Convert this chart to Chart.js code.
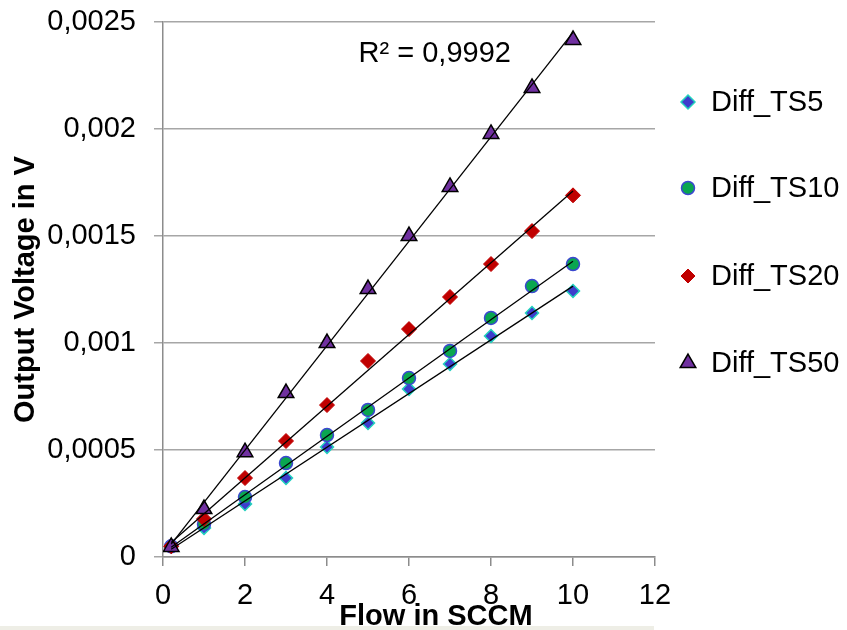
<!DOCTYPE html>
<html>
<head>
<meta charset="utf-8">
<script src="https://cdn.jsdelivr.net/npm/chart.js@4.4.1/dist/chart.umd.min.js"></script>
<style>
  html, body { margin: 0; padding: 0; background: #fff; }
  #wrap { position: relative; width: 847px; height: 630px; }
  #band { position: absolute; left: 0; top: 626px; width: 654px; height: 4px; background: #eeeee6; }
</style>
</head>
<body>
<div id="wrap">
  <canvas id="chart" width="847" height="630"></canvas>
  <div id="band"></div>
</div>
<script>
// ==================== DATOS ====================
const flowSccm = [0.2, 1, 2, 3, 4, 5, 6, 7, 8, 9, 10];

const diffTS5  = [0.00005, 0.000136, 0.000248, 0.000369, 0.000514, 0.000626, 0.000785, 0.000902, 0.001033, 0.00114, 0.001243];
const diffTS10 = [0.00005, 0.000154, 0.00028, 0.000439, 0.00057, 0.000687, 0.000836, 0.000963, 0.001117, 0.001266, 0.001369];
const diffTS20 = [0.00005, 0.000178, 0.000369, 0.000542, 0.00071, 0.000916, 0.001065, 0.001215, 0.001369, 0.001523, 0.00169];
const diffTS50 = [0.000047, 0.000224, 0.00049, 0.000766, 0.001, 0.001252, 0.0015, 0.001729, 0.001977, 0.002192, 0.002416];

const seriesNames = ['Diff_TS5', 'Diff_TS10', 'Diff_TS20', 'Diff_TS50'];

const yTickLabels = ['0', '0,0005', '0,001', '0,0015', '0,002', '0,0025'];
const xTickLabels = ['0', '2', '4', '6', '8', '10', '12'];

const xTitle = 'Flow in SCCM';
const yTitle = 'Output Voltage in V';

const r2Text = 'R² = 0,9992';
const r2Pos  = { x: 4.77, y: 0.00235 };

// ==================== ESTILO ====================
const FONT = "'Liberation Sans', Arial, sans-serif";
const FONT_SIZE = 29;
const estilos = [
  { pointStyle: 'rectRot',  radius: 6.5, bg: '#3d3dcc', border: '#22d3bd', bw: 1.5 },
  { pointStyle: 'circle',   radius: 6.5, bg: '#0aa650', border: '#3b47d0', bw: 1.5 },
  { pointStyle: 'rectRot',  radius: 7.5, bg: '#c00000', border: '#c00000', bw: 1 },
  { pointStyle: 'triangle', radius: 9,   bg: '#7030a0', border: '#000000', bw: 1.5 }
];

// Tendencia lineal (mínimos cuadrados), como la línea de Excel
function tendencia(xs, ys) {
  const n = xs.length;
  let sx = 0, sy = 0, sxx = 0, sxy = 0;
  for (let i = 0; i < n; i++) {
    sx += xs[i]; sy += ys[i]; sxx += xs[i] * xs[i]; sxy += xs[i] * ys[i];
  }
  const m = (n * sxy - sx * sy) / (n * sxx - sx * sx);
  const b = (sy - m * sx) / n;
  const x0 = xs[0], x1 = xs[n - 1];
  return [{ x: x0, y: m * x0 + b }, { x: x1, y: m * x1 + b }];
}

const valores = [diffTS5, diffTS10, diffTS20, diffTS50];
const datasets = [];

valores.forEach((ys, i) => {
  const e = estilos[i];
  datasets.push({
    label: seriesNames[i],
    data: flowSccm.map((x, k) => ({ x, y: ys[k] })),
    pointStyle: e.pointStyle,
    pointRadius: e.radius,
    pointBackgroundColor: e.bg,
    pointBorderColor: e.border,
    pointBorderWidth: e.bw,
    showLine: false,
    order: 4 - i
  });
});

valores.forEach((ys, i) => {
  datasets.push({
    label: 'trend-' + seriesNames[i],
    data: tendencia(flowSccm, ys),
    showLine: true,
    borderColor: '#000',
    borderWidth: 1.3,
    pointRadius: 0,
    order: 0
  });
});

// ==================== PLUGINS ====================
function dibujarMarcador(ctx, e, x, y) {
  ctx.save();
  ctx.fillStyle = e.bg;
  ctx.strokeStyle = e.border;
  ctx.lineWidth = e.bw;
  ctx.beginPath();
  const r = e.radius;
  if (e.pointStyle === 'circle') {
    ctx.arc(x, y, r, 0, Math.PI * 2);
  } else if (e.pointStyle === 'rectRot') {
    ctx.moveTo(x, y - r); ctx.lineTo(x + r, y); ctx.lineTo(x, y + r); ctx.lineTo(x - r, y);
  } else {
    ctx.moveTo(x, y - r);
    ctx.lineTo(x + r * 0.866, y + r * 0.5);
    ctx.lineTo(x - r * 0.866, y + r * 0.5);
  }
  ctx.closePath();
  ctx.fill();
  ctx.stroke();
  ctx.restore();
}

const leyendaLateral = {
  id: 'leyendaLateral',
  afterDraw(chart) {
    const ctx = chart.ctx;
    const x = chart.chartArea.right + 33;
    const filas = [102, 188, 276, 363];
    ctx.save();
    ctx.font = FONT_SIZE + 'px ' + FONT;
    ctx.fillStyle = '#000';
    ctx.textBaseline = 'middle';
    ctx.textAlign = 'left';
    seriesNames.forEach((nombre, i) => {
      const e = Object.assign({}, estilos[i]);
      if (i === 0 || i === 2) e.radius = 7;
      dibujarMarcador(ctx, e, x, filas[i]);
      ctx.fillText(nombre, x + 23, filas[i] + 1);
    });
    ctx.restore();
  }
};

const textosExtra = {
  id: 'textosExtra',
  afterDraw(chart) {
    const ctx = chart.ctx;
    const area = chart.chartArea;
    ctx.save();
    ctx.fillStyle = '#000';
    // R² de la serie superior
    ctx.font = FONT_SIZE + 'px ' + FONT;
    ctx.textBaseline = 'middle';
    ctx.textAlign = 'left';
    ctx.fillText(r2Text,
      chart.scales.x.getPixelForValue(r2Pos.x),
      chart.scales.y.getPixelForValue(r2Pos.y));
    // Título eje X (desplazado a la derecha como en Excel)
    ctx.font = 'bold ' + FONT_SIZE + 'px ' + FONT;
    ctx.textAlign = 'center';
    ctx.textBaseline = 'alphabetic';
    ctx.fillText(xTitle, (area.left + area.right) / 2 + 27, 625);
    ctx.restore();
  }
};

// ==================== GRÁFICO ====================
new Chart(document.getElementById('chart'), {
  type: 'scatter',
  data: { datasets },
  options: {
    responsive: false,
    animation: false,
    devicePixelRatio: 1,
    layout: { padding: { top: 22, right: 192, left: 0, bottom: 0 } },
    plugins: {
      legend: { display: false },
      tooltip: { enabled: false }
    },
    scales: {
      x: {
        type: 'linear',
        min: 0,
        max: 12,
        afterFit: (s) => { s.height = 73; s.paddingLeft = 0; s.paddingRight = 0; },
        ticks: {
          stepSize: 2,
          color: '#000',
          font: { family: FONT, size: FONT_SIZE },
          padding: 13,
          maxRotation: 0,
          callback: (v, i) => xTickLabels[i]
        },
        grid: { drawOnChartArea: false, drawTicks: true, tickLength: 9, color: '#8c8c8c', lineWidth: 1.5 },
        border: { display: true, color: '#8c8c8c', width: 1.5 }
      },
      y: {
        min: 0,
        max: 0.0025,
        afterFit: (s) => { s.width = 163; s.paddingTop = 0; s.paddingBottom = 0; },
        ticks: {
          stepSize: 0.0005,
          color: '#000',
          font: { family: FONT, size: FONT_SIZE },
          padding: 18,
          callback: (v, i) => yTickLabels[i]
        },
        grid: { drawOnChartArea: true, drawTicks: true, tickLength: 9, color: '#a6a6a6', lineWidth: 1.5 },
        border: { display: true, color: '#8c8c8c', width: 1.5 },
        title: {
          display: true,
          text: yTitle,
          color: '#000',
          font: { family: FONT, size: FONT_SIZE, weight: 'bold' },
          padding: { top: 9, bottom: 0 }
        }
      }
    }
  },
  plugins: [leyendaLateral, textosExtra]
});
</script>
</body>
</html>
